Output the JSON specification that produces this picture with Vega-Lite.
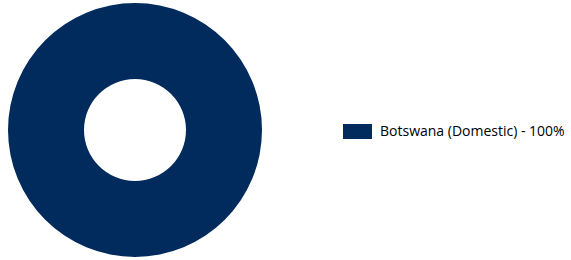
{
  "$schema": "https://vega.github.io/schema/vega-lite/v6.json",
  "width": 270,
  "height": 260,
  "padding": {"left": 0, "top": 0, "right": 301, "bottom": 0},
  "autosize": {"type": "none"},
  "background": "white",
  "data": {"values": [{"label": "Botswana (Domestic) - 100%", "value": 100}]},
  "mark": {"type": "arc", "outerRadius": 127, "innerRadius": 51},
  "encoding": {
    "theta": {"field": "value", "type": "quantitative"},
    "color": {
      "field": "label",
      "type": "nominal",
      "scale": {"range": ["#002B5C"]},
      "legend": {
        "title": null,
        "orient": "none",
        "legendX": 343,
        "legendY": 117,
        "padding": 0,
        "symbolType": "M-1,-0.517H1V0.517H-1Z",
        "symbolSize": 841,
        "symbolStrokeWidth": 0,
        "symbolOpacity": 1,
        "labelOffset": 8,
        "labelFont": "Open Sans",
        "labelFontSize": 14,
        "labelColor": "#000000",
        "labelLimit": 300
      }
    }
  },
  "config": {"view": {"stroke": null}}
}
